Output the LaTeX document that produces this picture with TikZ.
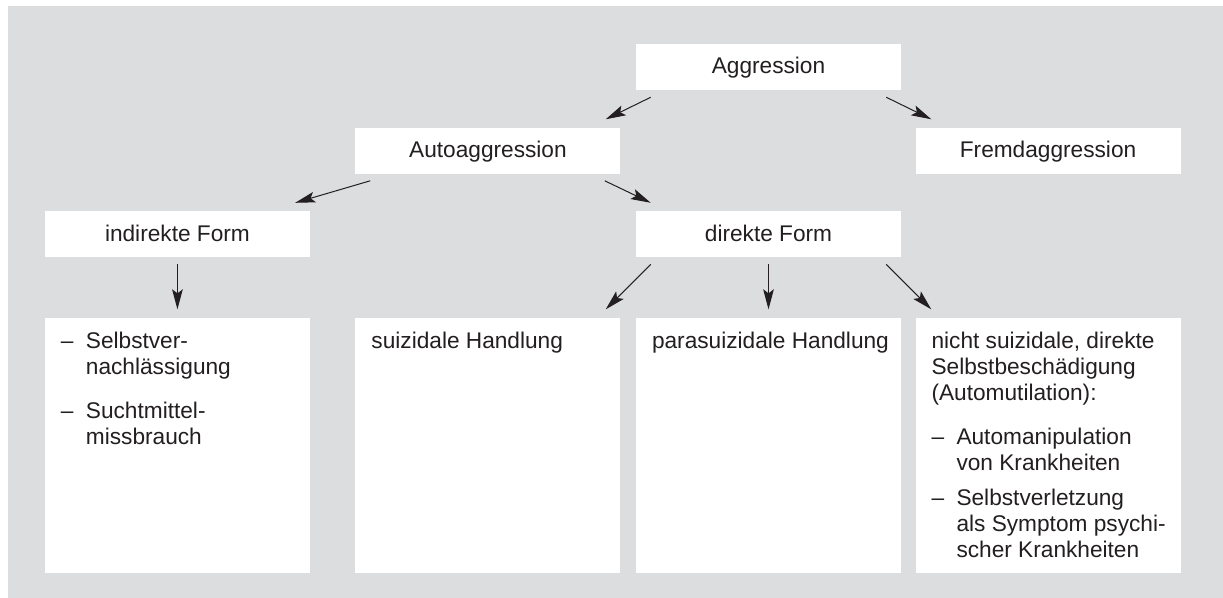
\documentclass[tikz,border=0pt]{standalone}
\usepackage{fontspec}
\setmainfont{Liberation Sans}
\usetikzlibrary{positioning,arrows.meta}
\definecolor{bggray}{RGB}{220,221,223}
\definecolor{ink}{RGB}{35,31,32}
\newcommand{\lstdash}{\makebox[18.75pt][l]{–}}
\newcommand{\lstind}{\hspace*{18.75pt}}
\newcommand{\listtext}[1]{\hspace*{12pt}\parbox[t][170.25pt][t]{186.75pt}{\raggedright #1}}

\begin{document}
\begin{tikzpicture}[
    >={Stealth[length=15pt,width=8pt,inset=3pt]},
    every node/.style={font=\fontsize{17pt}{19.5pt}\selectfont, text=ink},
    box/.style={fill=white, minimum width=198.75pt, minimum height=34.5pt, inner sep=0pt, text height=10.5pt, text depth=0pt},
    listbox/.style={fill=white, inner xsep=0pt, inner ysep=10.5pt},
    arr/.style={->, ink, line width=0.75pt}]
  \useasboundingbox (0,0) rectangle (917.25pt,-448.5pt);
  \fill[bggray] (6pt,-4.5pt) rectangle (917.25pt,-448.5pt);

  % boxes of the hierarchy
  \node (agg) [box] at (576.375pt,-50.25pt) {Aggression};
  \node (auto) [box,below left=27.75pt and 11.25pt of agg] {Autoaggression};
  \node (fremd) [box,below right=27.75pt and 10.5pt of agg] {Fremdaggression};
  \node (indir) [box,below left=27.75pt and 33.75pt of auto] {indirekte Form};
  \node (dir) [box,below right=27.75pt and 11.25pt of auto] {direkte Form};

  % lower boxes
  \node (indlist) [listbox,below=45pt of indir] {\listtext{%
      \lstdash Selbstver-\\
      \lstind nachlässigung\\[14pt]
      \lstdash Suchtmittel-\\
      \lstind missbrauch}};
  \node (suiz) [listbox,below left=45pt and 11.25pt of dir] {\listtext{suizidale Handlung}};
  \node (parasuiz) [listbox,below=45pt of dir] {\listtext{parasuizidale Handlung}};
  \node (automut) [listbox,below right=45pt and 10.5pt of dir] {\listtext{%
      nicht suizidale, direkte\\
      Selbstbeschädigung\\
      (Automutilation):\\[13.5pt]
      \lstdash Automanipulation\\
      \lstind von Krankheiten\\[6.75pt]
      \lstdash Selbstverletzung\\
      \lstind als Symptom psychi-\\
      \lstind scher Krankheiten}};

  \path[arr] ([xshift=11.25pt,yshift=-5.25pt]agg.south west) edge ([xshift=-11.25pt,yshift=6pt]auto.north east);
  \path[arr] ([xshift=-11.25pt,yshift=-5.25pt]agg.south east) edge ([xshift=12pt,yshift=6pt]fremd.north west);
  \path[arr] ([xshift=11.25pt,yshift=-5.25pt]auto.south west) edge ([xshift=-11.25pt,yshift=6pt]indir.north east);
  \path[arr] ([xshift=-12pt,yshift=-5.25pt]auto.south east) edge ([xshift=11.25pt,yshift=6pt]dir.north west);
  \path[arr] ([yshift=-5.25pt]indir.south) edge ([yshift=6pt]indlist.north);
  \path[arr] ([xshift=11.25pt,yshift=-5.25pt]dir.south west) edge ([xshift=-11.25pt,yshift=6pt]suiz.north east);
  \path[arr] ([yshift=-5.25pt]dir.south) edge ([yshift=6pt]parasuiz.north);
  \path[arr] ([xshift=-11.25pt,yshift=-5.25pt]dir.south east) edge ([xshift=12pt,yshift=6pt]automut.north west);
\end{tikzpicture}
\end{document}
